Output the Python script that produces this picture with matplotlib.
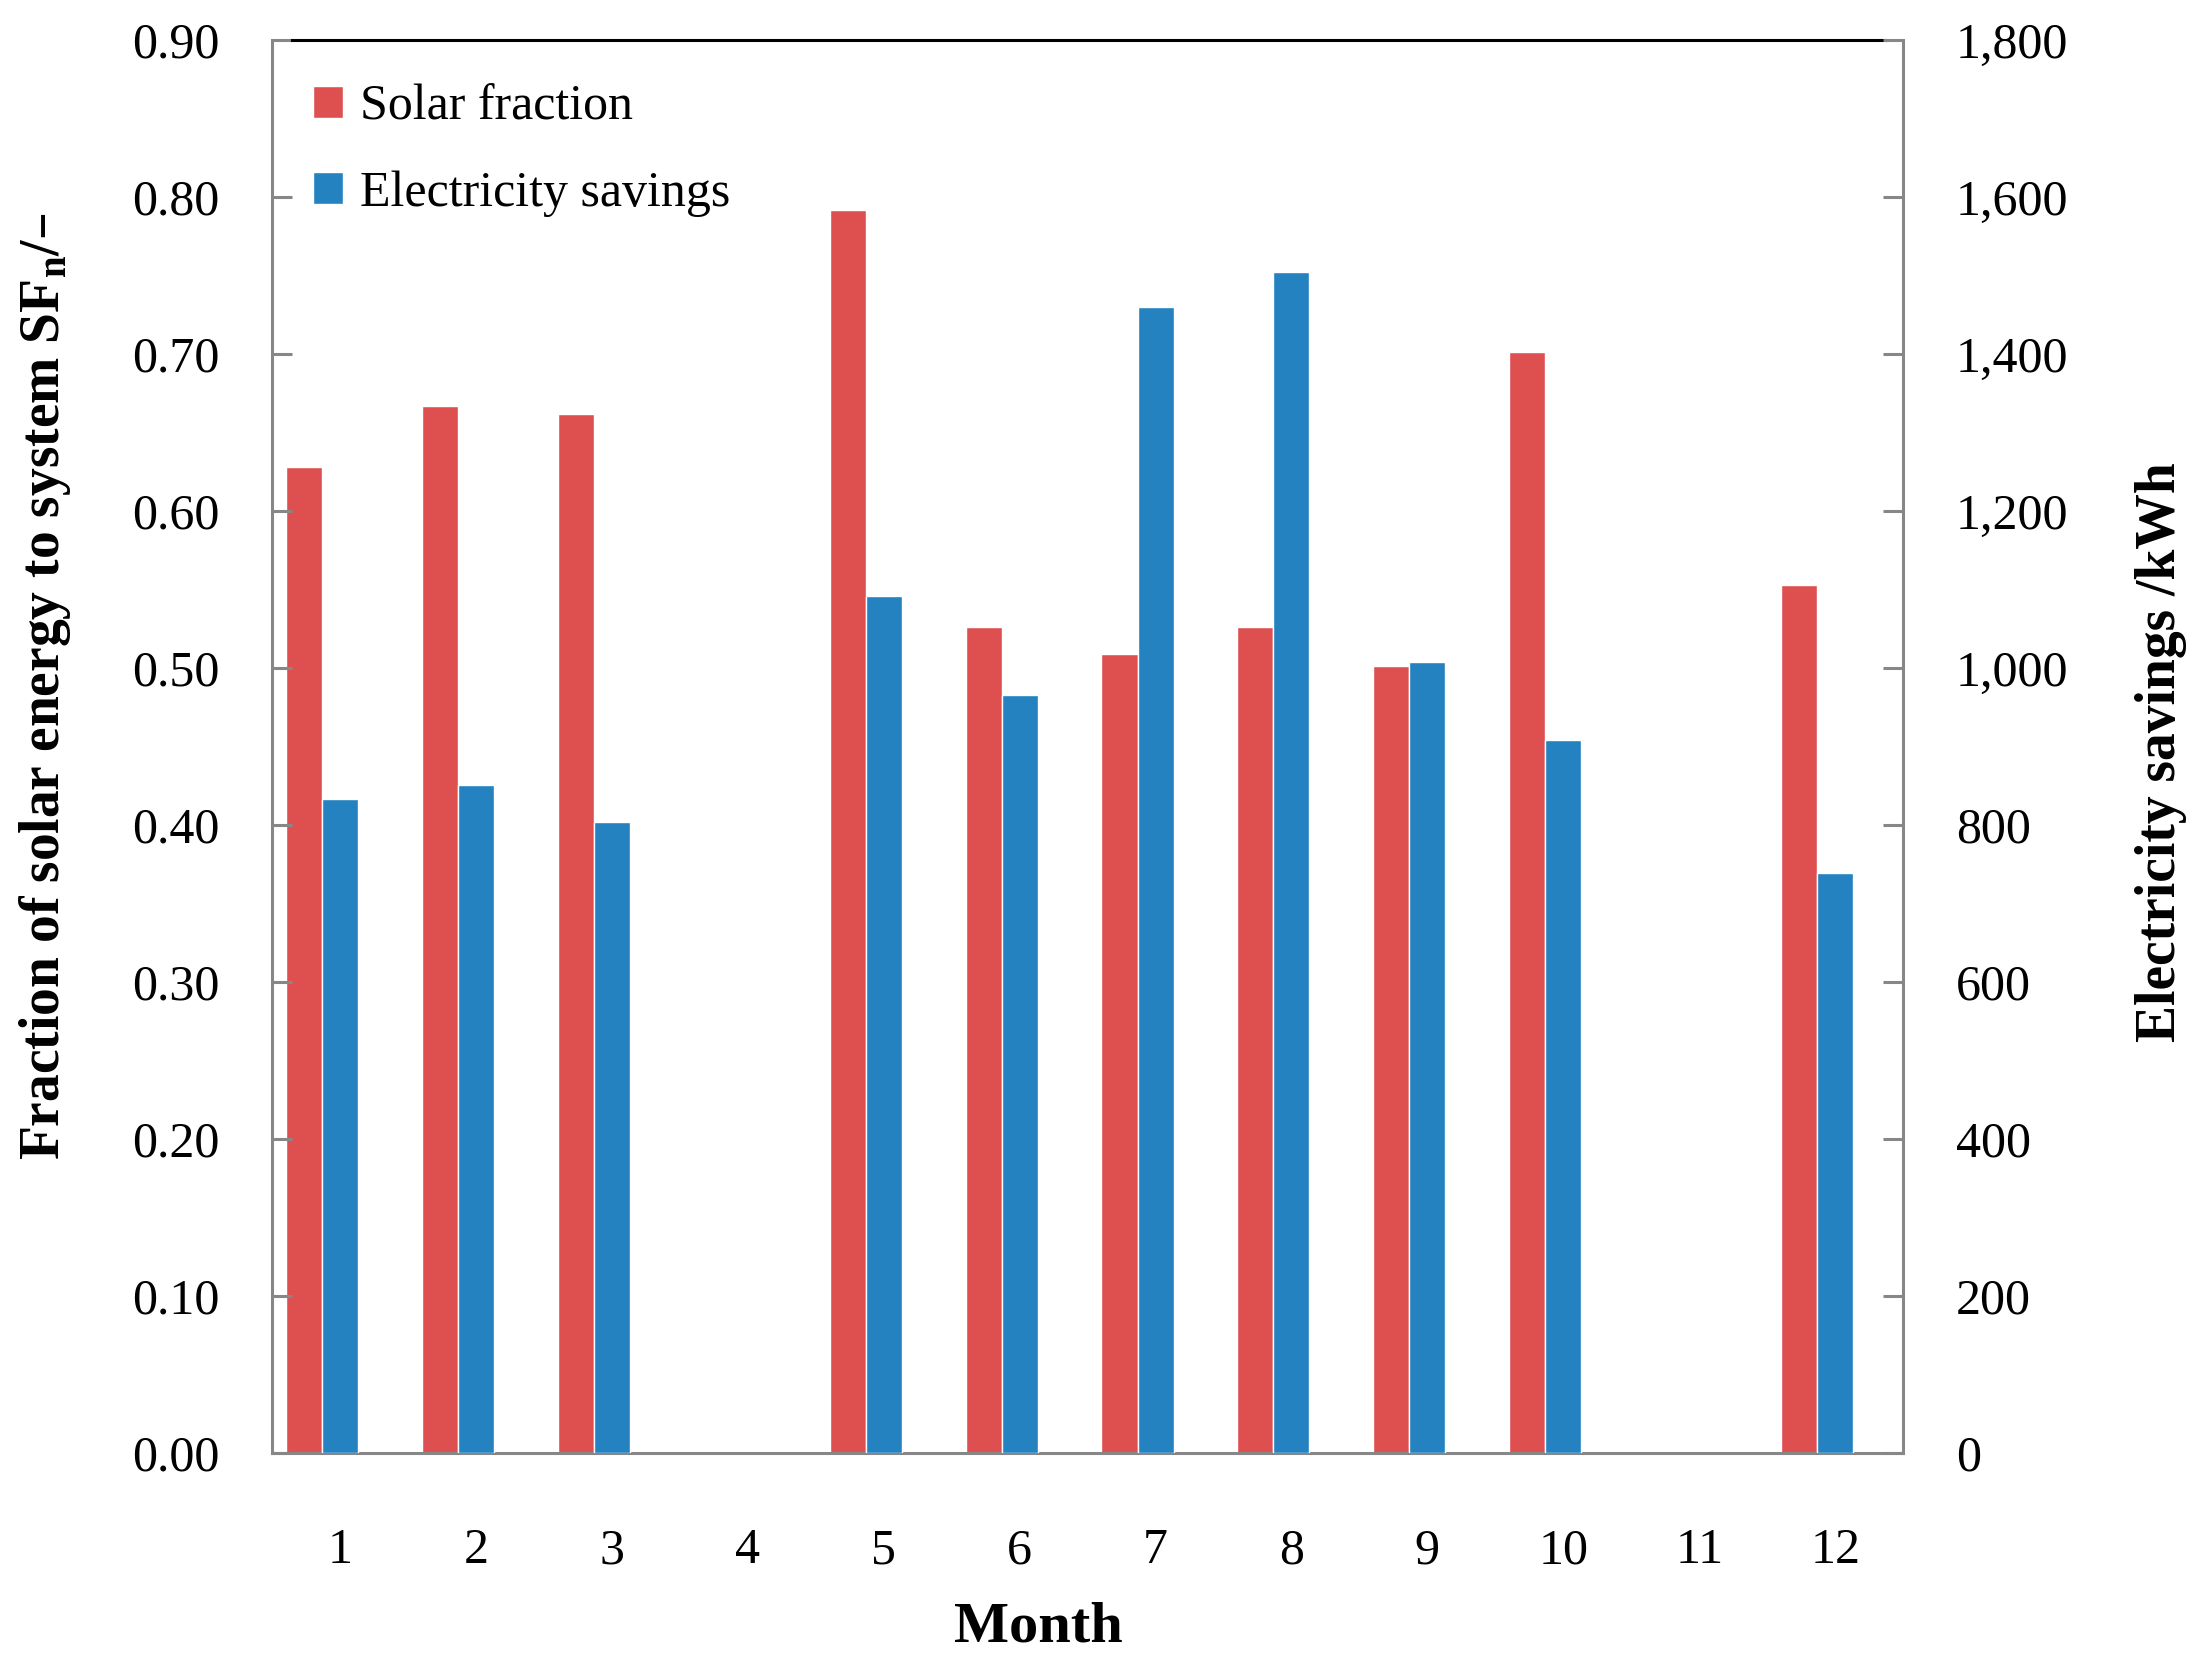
import numpy as np
import matplotlib
matplotlib.use('Agg')
import matplotlib.pyplot as plt
from matplotlib.ticker import FuncFormatter, MultipleLocator

# ==============================================================================
# Data (months 4 and 11 have no bars)
# ==============================================================================
months = [1, 2, 3, 4, 5, 6, 7, 8, 9, 10, 11, 12]
month_labels = ['1', '2', '3', '4', '5', '6', '7', '8', '9', '10', '11', '12']
solar_fraction = [0.628, 0.667, 0.662, np.nan, 0.792, 0.526, 0.509, 0.526, 0.501, 0.701, np.nan, 0.553]
electricity_savings = [833, 851, 804, np.nan, 1092, 966, 1460, 1505, 1007, 908, np.nan, 739]

red = '#DE5050'
blue = '#2482C1'
gray = '#878787'

plt.rcParams['font.family'] = ['Liberation Serif', 'DejaVu Serif']
plt.rcParams['mathtext.default'] = 'regular'

fig = plt.figure(figsize=(11.03, 8.335), dpi=200)
ax = fig.add_axes([0.1233, 0.1284, 0.7394, 0.8476])
ax2 = ax.twinx()

x = np.array(months)
w = 0.265
b1 = ax.bar(x - w, solar_fraction, width=w, color=red, edgecolor='white',
            linewidth=0.5, label='Solar fraction')
b2 = ax2.bar(x, electricity_savings, width=w, color=blue, edgecolor='white',
             linewidth=0.5, label='Electricity savings')

ax.set_xlim(0.5, 12.5)
ax.set_ylim(0, 0.9)
ax2.set_ylim(0, 1800)
ax.yaxis.set_major_locator(MultipleLocator(0.1))
ax2.yaxis.set_major_locator(MultipleLocator(200))
ax.yaxis.set_major_formatter(FuncFormatter(lambda v, p: '%.2f' % v))
ax2.yaxis.set_major_formatter(FuncFormatter(lambda v, p: '{:,.0f}'.format(v)))
ax.set_xticks(x)
ax.set_xticklabels(month_labels)

# spines: gray left/right/bottom, black line on top between the ticks
for a in [ax, ax2]:
    for s in a.spines.values():
        s.set_visible(False)
ax.spines['left'].set_visible(True)
ax.spines['bottom'].set_visible(True)
ax2.spines['right'].set_visible(True)
for s in [ax.spines['left'], ax.spines['bottom'], ax2.spines['right']]:
    s.set_color(gray)
    s.set_linewidth(1.1)
ax.axhline(0.9, xmin=0.0123, xmax=0.989, color='black', linewidth=1.1, clip_on=False)

ax.tick_params(axis='y', direction='in', length=7.2, width=1.1, color=gray,
               labelsize=18, pad=19)
ax2.tick_params(axis='y', direction='in', length=7.2, width=1.1, color=gray,
                labelsize=18, pad=19)
ax.tick_params(axis='x', length=0, labelsize=18, pad=27)

fig.text(0.0204, 0.5885, 'Fraction of solar energy to system SF$_{n}$/\u2013',
         rotation=90, ha='center', va='center', fontsize=20, fontweight='bold')
fig.text(0.9796, 0.5489, 'Electricity savings /kWh', rotation=90,
         ha='center', va='center', fontsize=20, fontweight='bold')
fig.text(0.4705, 0.0234, 'Month', ha='center', va='center', fontsize=21,
         fontweight='bold')

ax2.legend(handles=[b1, b2], loc='upper left', bbox_to_anchor=(0.025, 0.969),
           frameon=False, fontsize=18, handlelength=0.6, handleheight=0.6,
           handletextpad=0.35, labelspacing=0.8, borderpad=0, borderaxespad=0)

fig.savefig('out.png', dpi=200)
